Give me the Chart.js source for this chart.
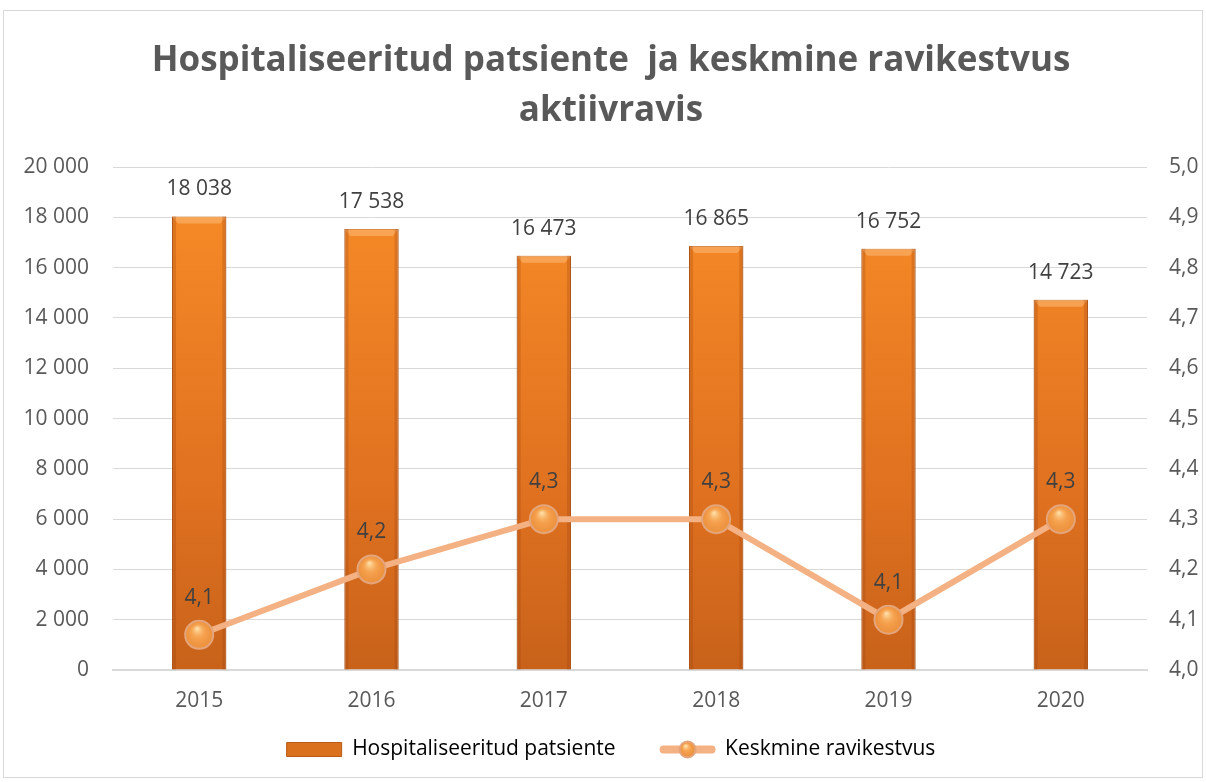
<!DOCTYPE html>
<html>
<head>
<meta charset="utf-8">
<script src="https://cdn.jsdelivr.net/npm/chart.js@4/dist/chart.umd.min.js"></script>
<style>
  body { margin: 0; background: #fff; }
  #wrap { position: absolute; left: 3px; top: 10px; width: 1200px; height: 768px; border: 1px solid #d9d9d9; box-sizing: border-box; }
</style>
</head>
<body>
<div id="wrap"><canvas id="myChart"></canvas></div>
<script>
  const years = ['2015', '2016', '2017', '2018', '2019', '2020'];
  const patients = [18038, 17538, 16473, 16865, 16752, 14723];
  const stayLength = [4.07, 4.2, 4.3, 4.3, 4.1, 4.3];
  const leftTicks = [0, 2000, 4000, 6000, 8000, 10000, 12000, 14000, 16000, 18000, 20000];
  const rightTicks = [4.0, 4.1, 4.2, 4.3, 4.4, 4.5, 4.6, 4.7, 4.8, 4.9, 5.0];

  const FONT = '"Open Sans", sans-serif';
  const GREY = '#595959';
  const FS = 21;

  function spaced(n) {
    return n.toString().replace(/\B(?=(\d{3})+(?!\d))/g, ' ');
  }
  function comma(v) {
    return v.toFixed(1).replace('.', ',');
  }

  // bar fill: orange getting darker to the bottom
  function barFill(c) {
    const area = c.chart.chartArea;
    if (!area) return '#E97A22';
    const g = c.chart.ctx.createLinearGradient(0, area.top, 0, area.bottom);
    g.addColorStop(0, '#F98D27');
    g.addColorStop(0.65, '#DF7120');
    g.addColorStop(1, '#C8621A');
    return g;
  }

  function drawBall(ctx, x, y, r) {
    ctx.fillStyle = '#F39A45';
    ctx.strokeStyle = '#E4A57C';
    ctx.lineWidth = 2;
    ctx.beginPath();
    ctx.arc(x, y, r, 0, Math.PI * 2);
    ctx.fill();
    ctx.stroke();
    const hl = ctx.createRadialGradient(x - 2, y - r * 0.45, 1, x, y, r);
    hl.addColorStop(0, 'rgba(255,225,170,0.9)');
    hl.addColorStop(0.5, 'rgba(250,175,95,0.25)');
    hl.addColorStop(1, 'rgba(200,100,30,0.15)');
    ctx.fillStyle = hl;
    ctx.beginPath();
    ctx.arc(x, y, r - 1, 0, Math.PI * 2);
    ctx.fill();
  }

  // bevel look on the bars
  const bevelPlugin = {
    id: 'bevel',
    afterDatasetDraw(chart, args) {
      if (args.index !== 0) return;
      const ctx = chart.ctx;
      ctx.save();
      args.meta.data.forEach(bar => {
        const l = bar.x - bar.width / 2, r = bar.x + bar.width / 2;
        const t = bar.y, b = bar.base;
        ctx.fillStyle = 'rgba(255,200,140,0.45)';
        ctx.beginPath();
        ctx.moveTo(l, t); ctx.lineTo(r, t); ctx.lineTo(r - 6, t + 7); ctx.lineTo(l + 6, t + 7);
        ctx.closePath();
        ctx.fill();
        ctx.fillStyle = 'rgba(150,60,10,0.25)';
        ctx.fillRect(l, t, 4, b - t);
        ctx.fillRect(r - 4, t, 4, b - t);
      });
      ctx.restore();
    }
  };

  // value labels, shaded points and the line legend marker
  const labelPlugin = {
    id: 'labels',
    afterDatasetsDraw(chart) {
      const ctx = chart.ctx;
      ctx.save();
      chart.getDatasetMeta(1).data.forEach(pt => drawBall(ctx, pt.x, pt.y, 14));
      ctx.font = FS + 'px ' + FONT;
      ctx.fillStyle = '#404040';
      ctx.textAlign = 'center';
      ctx.textBaseline = 'middle';
      chart.getDatasetMeta(0).data.forEach((bar, i) => {
        ctx.fillText(spaced(patients[i]), bar.x, bar.y - 27);
      });
      chart.getDatasetMeta(1).data.forEach((pt, i) => {
        ctx.fillText(comma(stayLength[i]), pt.x, pt.y - 37);
      });
      ctx.restore();
    },
    afterDraw(chart) {
      const boxes = chart.legend.legendHitBoxes;
      if (!boxes || boxes.length < 2) return;
      const b = boxes[1];
      const ctx = chart.ctx;
      const cy = b.top + b.height / 2;
      ctx.save();
      ctx.strokeStyle = '#F4B183';
      ctx.lineWidth = 8;
      ctx.lineCap = 'round';
      ctx.beginPath();
      ctx.moveTo(b.left + 4, cy);
      ctx.lineTo(b.left + 52, cy);
      ctx.stroke();
      drawBall(ctx, b.left + 28, cy, 8);
      ctx.restore();
    }
  };

  const config = {
    data: {
      labels: years,
      datasets: [{
        type: 'bar',
        label: 'Hospitaliseeritud patsiente',
        data: patients,
        yAxisID: 'y',
        backgroundColor: barFill,
        borderColor: '#B85B16',
        borderWidth: 1,
        barPercentage: 0.63,
        categoryPercentage: 0.5,
        order: 2
      }, {
        type: 'line',
        label: 'Keskmine ravikestvus',
        data: stayLength,
        yAxisID: 'y1',
        borderColor: '#F4B183',
        borderWidth: 6,
        pointRadius: 0,
        tension: 0,
        order: 1
      }]
    },
    options: {
      responsive: true,
      maintainAspectRatio: false,
      animation: false,
      layout: { padding: { left: 16, right: 0, top: 8, bottom: 7 } },
      plugins: {
        title: {
          display: true,
          text: ['Hospitaliseeritud patsiente  ja keskmine ravikestvus', 'aktiivravis'],
          color: GREY,
          font: { family: FONT, size: 35, weight: 'bold', lineHeight: 1.43 },
          padding: { top: 17, bottom: 31 }
        },
        legend: {
          position: 'bottom',
          labels: {
            color: GREY,
            font: { family: FONT, size: FS },
            boxWidth: 55,
            boxHeight: 14,
            padding: 23,
            generateLabels(chart) {
              return [{
                text: 'Hospitaliseeritud patsiente\u2002\u2002',
                fillStyle: '#DA711F',
                strokeStyle: '#B85B16',
                lineWidth: 1,
                datasetIndex: 0
              }, {
                text: 'Keskmine ravikestvus',
                fillStyle: 'rgba(0,0,0,0)',
                strokeStyle: 'rgba(0,0,0,0)',
                lineWidth: 0,
                datasetIndex: 1
              }];
            }
          }
        },
        tooltip: { enabled: false }
      },
      scales: {
        x: {
          grid: { display: false },
          border: { color: '#D9D9D9', width: 2 },
          ticks: { color: GREY, font: { family: FONT, size: FS }, padding: 10 },
          afterFit(axis) { axis.height = 46; }
        },
        y: {
          position: 'left',
          min: leftTicks[0],
          max: leftTicks[leftTicks.length - 1],
          afterBuildTicks(axis) {
            axis.ticks = leftTicks.map(v => ({ value: v }));
          },
          afterFit(axis) { axis.width = 93; },
          grid: { color: '#D9D9D9', lineWidth: 1, drawTicks: false },
          border: { display: false },
          ticks: {
            color: GREY,
            font: { family: FONT, size: FS },
            padding: 24,
            callback: v => spaced(v)
          }
        },
        y1: {
          position: 'right',
          min: rightTicks[0],
          max: rightTicks[rightTicks.length - 1],
          afterBuildTicks(axis) {
            axis.ticks = rightTicks.map(v => ({ value: v }));
          },
          afterFit(axis) { axis.width = 55; },
          grid: { display: false, drawTicks: false },
          border: { display: false },
          ticks: {
            color: GREY,
            font: { family: FONT, size: FS },
            padding: 22,
            callback: v => comma(v)
          }
        }
      }
    },
    plugins: [bevelPlugin, labelPlugin]
  };

  const myChart = new Chart(document.getElementById('myChart'), config);
</script>
</body>
</html>
